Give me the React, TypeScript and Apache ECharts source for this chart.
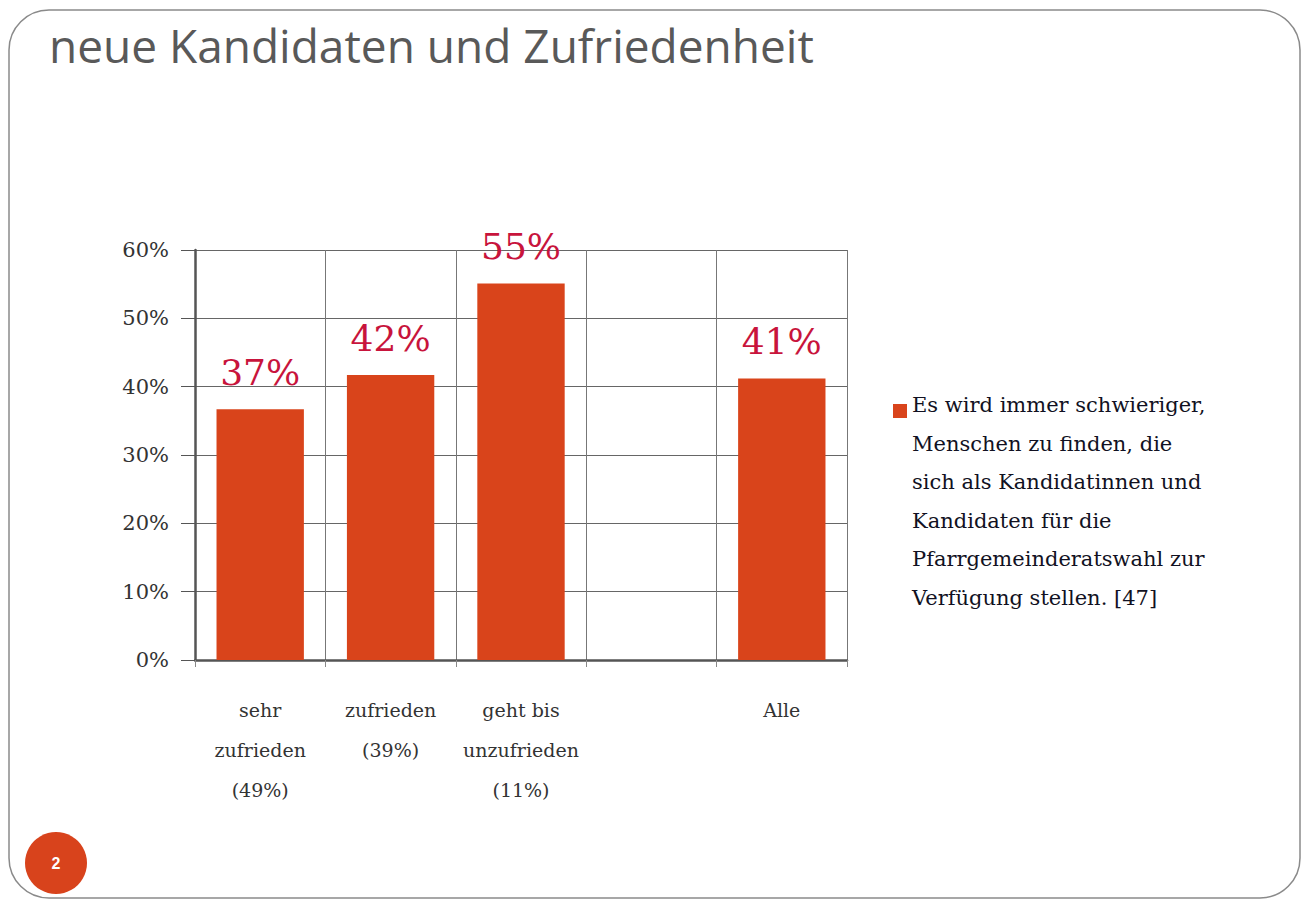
import React, { useEffect, useRef } from "react";
import * as echarts from "echarts";

const titleText = "neue Kandidaten und Zufriedenheit";
const categories = ["sehr\nzufrieden\n(49%)", "zufrieden\n(39%)", "geht bis\nunzufrieden\n(11%)", "", "Alle"];
const seriesName = "Es wird immer schwieriger,\nMenschen zu finden, die\nsich als Kandidatinnen und\nKandidaten für die\nPfarrgemeinderatswahl zur\nVerfügung stellen. [47]";
const values: (number | null)[] = [36.7, 41.7, 55.1, null, 41.2];
const valueLabels = ["37%", "42%", "55%", "", "41%"];
const pageNumber = "2";

const BAR = "#d9441b";
const SERIF = "'DejaVu Serif', 'Liberation Serif', serif";

export default function App() {
  const ref = useRef<HTMLDivElement>(null);
  useEffect(() => {
    if (!ref.current) return;
    const chart = echarts.init(ref.current, null, { renderer: "svg" });
    chart.setOption({
      animation: false,
      backgroundColor: "#ffffff",
      title: {
        text: titleText,
        left: 44,
        top: 17,
        textStyle: { fontFamily: "'Open Sans', Lato, sans-serif", fontSize: 46, fontWeight: "normal", color: "#595959" },
      },
      grid: { left: 195, right: 458, top: 250, bottom: 241, containLabel: false },
      legend: {
        data: [seriesName],
        left: 888,
        top: 399,
        itemWidth: 14,
        itemHeight: 14,
        icon: "rect",
        formatter: () => "",
        selectedMode: false,
      },
      xAxis: {
        type: "category",
        data: categories,
        boundaryGap: true,
        axisLine: { show: true, lineStyle: { color: "#555", width: 2.5 } },
        axisTick: { show: true, length: 7, lineStyle: { color: "#888" } },
        splitLine: { show: true, lineStyle: { color: "#777", width: 1 } },
        axisLabel: {
          fontFamily: SERIF,
          fontSize: 19,
          color: "#333",
          lineHeight: 40,
          margin: 30,
          interval: 0,
        },
      },
      yAxis: {
        type: "value",
        min: 0,
        max: 60,
        interval: 10,
        axisLine: { show: true, lineStyle: { color: "#555", width: 2.5 } },
        axisTick: { show: true, length: 14, lineStyle: { color: "#555" } },
        splitLine: { show: true, lineStyle: { color: "#666", width: 1 } },
        axisLabel: {
          fontFamily: SERIF,
          fontSize: 21,
          color: "#333",
          margin: 26,
          formatter: "{value}%",
        },
      },
      series: [
        {
          name: seriesName,
          type: "bar",
          data: values,
          barWidth: "67%",
          itemStyle: { color: BAR },
          label: {
            show: true,
            position: "top",
            distance: 19,
            fontFamily: SERIF,
            fontSize: 36,
            color: "#c8143c",
            formatter: (p: any) => valueLabels[p.dataIndex],
          },
        },
      ],
      graphic: [
        {
          type: "text",
          left: 912,
          top: 386,
          style: {
            text: seriesName,
            fontFamily: SERIF,
            fontSize: 21,
            lineHeight: 38.5,
            fill: "#111122",
          },
        },
        {
          type: "rect",
          shape: { x: 9, y: 10, width: 1291, height: 888, r: 40 },
          style: { fill: "none", stroke: "#8a8a8a", lineWidth: 1.5 },
          silent: true,
        },
        {
          type: "circle",
          shape: { cx: 56, cy: 863, r: 31 },
          style: { fill: "#d8431c" },
        },
        {
          type: "text",
          x: 56,
          y: 863,
          style: { text: pageNumber, fill: "#fff", fontSize: 16, fontWeight: "bold", fontFamily: "'Liberation Sans', sans-serif", align: "center", verticalAlign: "middle" },
        },
      ],
    });
    return () => chart.dispose();
  }, []);
  return <div ref={ref} style={{ position: "fixed", left: 0, top: 0, width: 1305, height: 901 }} />;
}
